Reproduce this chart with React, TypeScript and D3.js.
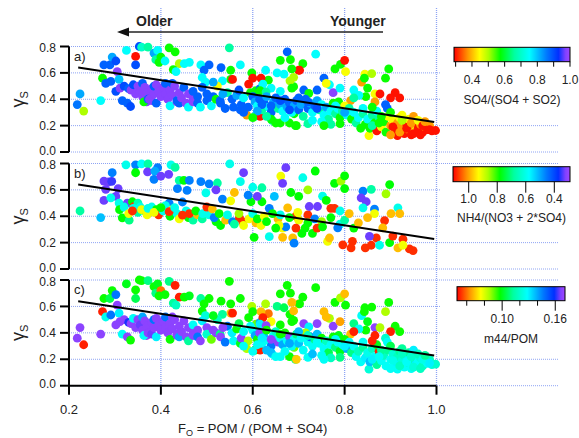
import React from 'react'
import * as d3 from 'd3'

const W = 579
const H = 438

// x axis / y axis ticks
const foTicks = [0.2, 0.4, 0.6, 0.8, 1.0]
const gammaTicks = [0, 0.2, 0.4, 0.6, 0.8]

// fitted line, same in every panel
const fitFo = [0.22, 0.995]
const fitGamma = [0.64, 0.228]

// [F_O, gamma_s, SO4/(SO4+SO2), m44/POM]  -> panels a) and c)
const pointsAC: number[][] = [
  [0.224, 0.44, 0.82, 0.168], [0.218, 0.36, 0.86, 0.168], [0.232, 0.31, 0.5, 0.052], [0.269, 0.39, 0.75, 0.168],
  [0.273, 0.56, 0.57, 0.052], [0.276, 0.66, 0.88, 0.097], [0.289, 0.66, 0.88, 0.105], [0.294, 0.72, 0.82, 0.097],
  [0.302, 0.69, 0.9, 0.147], [0.28, 0.52, 0.88, 0.125], [0.291, 0.535, 0.88, 0.147], [0.305, 0.61, 0.98, 0.168],
  [0.309, 0.55, 0.8, 0.13], [0.302, 0.46, 0.9, 0.168], [0.316, 0.39, 0.88, 0.127], [0.327, 0.37, 0.88, 0.168],
  [0.334, 0.345, 0.9, 0.097], [0.325, 0.77, 0.75, 0.1], [0.345, 0.725, 0.3, 0.097], [0.353, 0.8, 0.9, 0.097],
  [0.345, 0.66, 0.9, 0.105], [0.358, 0.795, 0.7, 0.097], [0.372, 0.795, 0.66, 0.11], [0.385, 0.75, 0.82, 0.097],
  [0.393, 0.77, 0.75, 0.1], [0.389, 0.7, 0.66, 0.11], [0.4, 0.72, 0.57, 0.06], [0.396, 0.68, 0.57, 0.097],
  [0.418, 0.79, 0.57, 0.11], [0.431, 0.76, 0.57, 0.052], [0.409, 0.69, 0.75, 0.097], [0.44, 0.67, 0.5, 0.052],
  [0.451, 0.67, 0.75, 0.097], [0.462, 0.68, 0.75, 0.1], [0.487, 0.66, 0.75, 0.112], [0.505, 0.66, 0.88, 0.097],
  [0.531, 0.64, 0.88, 0.097], [0.549, 0.79, 0.66, 0.097], [0.573, 0.66, 0.75, 0.097], [0.552, 0.62, 0.57, 0.097],
  [0.494, 0.62, 0.88, 0.097], [0.427, 0.625, 0.57, 0.112], [0.433, 0.61, 0.75, 0.118], [0.49, 0.565, 0.75, 0.097],
  [0.552, 0.55, 0.57, 0.068], [0.556, 0.55, 0.3, 0.052], [0.534, 0.54, 0.75, 0.112], [0.497, 0.53, 0.75, 0.122],
  [0.598, 0.6, 0.57, 0.085], [0.591, 0.515, 0.3, 0.097], [0.607, 0.465, 0.57, 0.09], [0.523, 0.5, 0.45, 0.118],
  [0.311, 0.485, 0.98, 0.168], [0.32, 0.5, 0.9, 0.168], [0.33, 0.48, 0.88, 0.16], [0.335, 0.47, 0.98, 0.168],
  [0.34, 0.51, 0.9, 0.127], [0.345, 0.44, 0.98, 0.168], [0.35, 0.5, 0.98, 0.168], [0.355, 0.46, 0.98, 0.165],
  [0.36, 0.42, 0.98, 0.168], [0.36, 0.52, 0.88, 0.14], [0.365, 0.49, 0.98, 0.168], [0.369, 0.38, 0.98, 0.168],
  [0.363, 0.38, 0.57, 0.127], [0.37, 0.45, 0.98, 0.168], [0.372, 0.4, 0.88, 0.168], [0.375, 0.4, 0.98, 0.168],
  [0.38, 0.48, 0.98, 0.168], [0.38, 0.39, 0.98, 0.165], [0.385, 0.44, 0.98, 0.168], [0.385, 0.5, 0.88, 0.147],
  [0.39, 0.51, 0.98, 0.168], [0.39, 0.37, 0.88, 0.13], [0.395, 0.46, 0.98, 0.168], [0.4, 0.42, 0.98, 0.168],
  [0.405, 0.49, 0.98, 0.168], [0.41, 0.44, 0.98, 0.168], [0.41, 0.52, 0.88, 0.147], [0.415, 0.4, 0.98, 0.168],
  [0.42, 0.47, 0.98, 0.168], [0.42, 0.35, 0.75, 0.097], [0.425, 0.43, 0.98, 0.168], [0.425, 0.52, 0.88, 0.168],
  [0.43, 0.5, 0.98, 0.168], [0.435, 0.38, 0.98, 0.168], [0.435, 0.39, 0.88, 0.168], [0.44, 0.45, 0.98, 0.168],
  [0.44, 0.37, 0.88, 0.14], [0.445, 0.41, 0.98, 0.168], [0.45, 0.49, 0.88, 0.168], [0.455, 0.37, 0.98, 0.168],
  [0.46, 0.44, 0.98, 0.168], [0.46, 0.34, 0.75, 0.112], [0.47, 0.4, 0.98, 0.168], [0.47, 0.38, 0.98, 0.168],
  [0.47, 0.46, 0.88, 0.127], [0.48, 0.42, 0.88, 0.168], [0.48, 0.37, 0.88, 0.147], [0.486, 0.34, 0.75, 0.168],
  [0.49, 0.49, 0.88, 0.13], [0.5, 0.44, 0.88, 0.168], [0.5, 0.39, 0.88, 0.12], [0.514, 0.42, 0.88, 0.168],
  [0.514, 0.53, 0.82, 0.1], [0.51, 0.35, 0.75, 0.09], [0.52, 0.4, 0.57, 0.168], [0.529, 0.39, 0.88, 0.11],
  [0.53, 0.37, 0.88, 0.168], [0.54, 0.33, 0.88, 0.147], [0.545, 0.45, 0.66, 0.147], [0.558, 0.34, 0.88, 0.127],
  [0.573, 0.32, 0.88, 0.1], [0.587, 0.28, 0.38, 0.085], [0.605, 0.27, 0.75, 0.1], [0.616, 0.27, 0.3, 0.052],
  [0.616, 0.48, 0.88, 0.14], [0.634, 0.545, 0.57, 0.06], [0.653, 0.6, 0.75, 0.11], [0.642, 0.24, 0.66, 0.127],
  [0.66, 0.22, 0.57, 0.127], [0.675, 0.76, 0.88, 0.097], [0.682, 0.7, 0.57, 0.097], [0.689, 0.495, 0.57, 0.097],
  [0.693, 0.2, 0.57, 0.11], [0.7, 0.62, 0.3, 0.068], [0.69, 0.29, 0.57, 0.09], [0.6, 0.56, 0.3, 0.097],
  [0.555, 0.4, 0.88, 0.13], [0.565, 0.43, 0.82, 0.097], [0.575, 0.36, 0.88, 0.168], [0.58, 0.41, 0.75, 0.127],
  [0.59, 0.34, 0.88, 0.085], [0.595, 0.45, 0.57, 0.127], [0.57, 0.47, 0.9, 0.105], [0.535, 0.44, 0.82, 0.168],
  [0.737, 0.742, 0.75, 0.097], [0.66, 0.695, 0.57, 0.097], [0.709, 0.67, 0.57, 0.097], [0.702, 0.62, 0.3, 0.097],
  [0.685, 0.63, 0.57, 0.068], [0.681, 0.54, 0.5, 0.097], [0.689, 0.566, 0.5, 0.068], [0.628, 0.62, 0.75, 0.085],
  [0.668, 0.59, 0.75, 0.105], [0.618, 0.56, 0.3, 0.068], [0.622, 0.515, 0.75, 0.052], [0.64, 0.485, 0.75, 0.076],
  [0.616, 0.465, 0.57, 0.13], [0.629, 0.455, 0.66, 0.168], [0.66, 0.46, 0.75, 0.097], [0.685, 0.485, 0.57, 0.097],
  [0.711, 0.47, 0.88, 0.168], [0.74, 0.47, 0.88, 0.168], [0.722, 0.445, 0.57, 0.13], [0.767, 0.51, 0.75, 0.085],
  [0.755, 0.56, 0.88, 0.068], [0.76, 0.52, 0.45, 0.068], [0.775, 0.45, 0.98, 0.168], [0.787, 0.38, 0.57, 0.1],
  [0.79, 0.485, 0.75, 0.065], [0.779, 0.63, 0.57, 0.097], [0.791, 0.665, 0.57, 0.085], [0.8, 0.695, 0.3, 0.068],
  [0.802, 0.61, 0.45, 0.097], [0.82, 0.47, 0.75, 0.11], [0.837, 0.53, 0.38, 0.127], [0.844, 0.59, 0.45, 0.097],
  [0.859, 0.595, 0.5, 0.097], [0.843, 0.56, 0.57, 0.097], [0.85, 0.485, 0.57, 0.1], [0.846, 0.42, 0.57, 0.097],
  [0.831, 0.43, 0.75, 0.127], [0.866, 0.44, 0.45, 0.168], [0.877, 0.44, 0.3, 0.085], [0.813, 0.39, 0.38, 0.068],
  [0.82, 0.41, 0.66, 0.052], [0.866, 0.38, 0.38, 0.052], [0.896, 0.63, 0.57, 0.097], [0.889, 0.56, 0.57, 0.085],
  [0.91, 0.45, 0.3, 0.097], [0.92, 0.41, 0.3, 0.097], [0.9, 0.41, 0.3, 0.052], [0.889, 0.36, 0.88, 0.12],
  [0.893, 0.33, 0.88, 0.127],
  [0.6, 0.42, 0.88, 0.127], [0.605, 0.38, 0.82, 0.14], [0.61, 0.35, 0.75, 0.097], [0.615, 0.4, 0.88, 0.168],
  [0.62, 0.32, 0.66, 0.127], [0.625, 0.37, 0.88, 0.137], [0.63, 0.42, 0.82, 0.097], [0.635, 0.34, 0.75, 0.127],
  [0.64, 0.3, 0.88, 0.147], [0.645, 0.38, 0.82, 0.127], [0.65, 0.41, 0.88, 0.118], [0.655, 0.33, 0.66, 0.168],
  [0.66, 0.36, 0.82, 0.127], [0.665, 0.31, 0.75, 0.14], [0.67, 0.4, 0.88, 0.097], [0.675, 0.34, 0.82, 0.127],
  [0.68, 0.37, 0.88, 0.168], [0.685, 0.3, 0.75, 0.127], [0.69, 0.35, 0.82, 0.127], [0.695, 0.39, 0.88, 0.11],
  [0.7, 0.32, 0.88, 0.137], [0.705, 0.36, 0.82, 0.127], [0.71, 0.27, 0.66, 0.127], [0.715, 0.4, 0.88, 0.085],
  [0.72, 0.33, 0.88, 0.127], [0.725, 0.37, 0.82, 0.147], [0.73, 0.3, 0.75, 0.127], [0.735, 0.35, 0.88, 0.11],
  [0.74, 0.39, 0.82, 0.137], [0.745, 0.32, 0.66, 0.127], [0.75, 0.36, 0.75, 0.097], [0.755, 0.28, 0.75, 0.127],
  [0.76, 0.34, 0.82, 0.118], [0.765, 0.25, 0.66, 0.105], [0.77, 0.31, 0.75, 0.127], [0.775, 0.37, 0.57, 0.097],
  [0.78, 0.29, 0.66, 0.11], [0.785, 0.33, 0.75, 0.127], [0.79, 0.26, 0.57, 0.1], [0.795, 0.31, 0.66, 0.127],
  [0.8, 0.35, 0.45, 0.097], [0.805, 0.28, 0.75, 0.14], [0.81, 0.33, 0.66, 0.127], [0.815, 0.25, 0.57, 0.11],
  [0.82, 0.3, 0.75, 0.127], [0.64, 0.25, 0.57, 0.137], [0.65, 0.22, 0.57, 0.127], [0.68, 0.22, 0.57, 0.097],
  [0.695, 0.2, 0.57, 0.07], [0.72, 0.215, 0.66, 0.127], [0.73, 0.24, 0.75, 0.137], [0.75, 0.23, 0.75, 0.127],
  [0.77, 0.21, 0.66, 0.118], [0.79, 0.215, 0.57, 0.11], [0.755, 0.2, 0.57, 0.127],
  [0.62, 0.36, 0.88, 0.13], [0.66, 0.39, 0.9, 0.097], [0.7, 0.41, 0.88, 0.137], [0.74, 0.33, 0.9, 0.127],
  [0.64, 0.35, 0.88, 0.168], [0.61, 0.31, 0.82, 0.127], [0.68, 0.32, 0.9, 0.14], [0.72, 0.38, 0.88, 0.118],
  [0.78, 0.35, 0.75, 0.127], [0.8, 0.3, 0.82, 0.13], [0.58, 0.3, 0.88, 0.127], [0.6, 0.26, 0.57, 0.127],
  [0.63, 0.27, 0.66, 0.137], [0.67, 0.26, 0.75, 0.127],
  [0.825, 0.22, 0.66, 0.127], [0.83, 0.26, 0.75, 0.118], [0.835, 0.18, 0.57, 0.127], [0.84, 0.29, 0.66, 0.112],
  [0.845, 0.21, 0.57, 0.13], [0.85, 0.25, 0.75, 0.125], [0.853, 0.125, 0.45, 0.122], [0.855, 0.18, 0.57, 0.137],
  [0.86, 0.28, 0.66, 0.118], [0.865, 0.22, 0.57, 0.127], [0.87, 0.16, 0.3, 0.112], [0.875, 0.26, 0.66, 0.052],
  [0.88, 0.19, 0.45, 0.127], [0.885, 0.23, 0.57, 0.118], [0.89, 0.15, 0.57, 0.127], [0.895, 0.27, 0.45, 0.112],
  [0.9, 0.2, 0.38, 0.127], [0.905, 0.24, 0.45, 0.122], [0.91, 0.17, 0.3, 0.13], [0.915, 0.125, 0.3, 0.127],
  [0.915, 0.22, 0.38, 0.118], [0.92, 0.26, 0.45, 0.112], [0.925, 0.19, 0.38, 0.122], [0.93, 0.14, 0.3, 0.127],
  [0.93, 0.23, 0.45, 0.118], [0.935, 0.21, 0.3, 0.13], [0.94, 0.17, 0.38, 0.122], [0.94, 0.25, 0.45, 0.112],
  [0.945, 0.13, 0.3, 0.127], [0.95, 0.2, 0.38, 0.118], [0.955, 0.23, 0.3, 0.122], [0.955, 0.16, 0.45, 0.13],
  [0.96, 0.18, 0.3, 0.127], [0.965, 0.21, 0.38, 0.122], [0.97, 0.15, 0.3, 0.118], [0.975, 0.19, 0.38, 0.122],
  [0.98, 0.17, 0.3, 0.127], [0.985, 0.2, 0.38, 0.118], [0.99, 0.16, 0.3, 0.122], [0.998, 0.163, 0.3, 0.12],
  [0.9, 0.3, 0.57, 0.105], [0.87, 0.31, 0.75, 0.1], [0.925, 0.28, 0.45, 0.112], [0.95, 0.27, 0.38, 0.13],
  [0.86, 0.34, 0.57, 0.052], [0.84, 0.33, 0.75, 0.127],
  [0.905, 0.19, 0.3, 0.125], [0.92, 0.15, 0.38, 0.118], [0.935, 0.18, 0.3, 0.127], [0.945, 0.22, 0.38, 0.12],
  [0.96, 0.24, 0.45, 0.118], [0.97, 0.2, 0.3, 0.125], [0.975, 0.23, 0.38, 0.112], [0.985, 0.17, 0.3, 0.13],
  [0.95, 0.14, 0.3, 0.122], [0.965, 0.13, 0.3, 0.118], [0.925, 0.24, 0.5, 0.118], [0.9, 0.13, 0.38, 0.127],
  [0.88, 0.27, 0.57, 0.112], [0.86, 0.2, 0.66, 0.13], [0.875, 0.22, 0.57, 0.127],
]

// [F_O, gamma_s, NH4/(NO3+2*SO4)]  -> panel b)
const pointsB: number[][] = [
  [0.224, 0.44, 0.68], [0.269, 0.39, 0.52], [0.294, 0.73, 0.46], [0.276, 0.667, 0.33], [0.286, 0.66, 0.33],
  [0.293, 0.665, 0.35], [0.28, 0.604, 0.33], [0.307, 0.61, 0.33], [0.302, 0.55, 0.33], [0.276, 0.52, 0.33],
  [0.291, 0.54, 0.6], [0.309, 0.5, 0.6], [0.316, 0.388, 0.78], [0.331, 0.37, 0.7], [0.327, 0.5, 0.33],
  [0.338, 0.51, 0.78], [0.342, 0.475, 1.08], [0.324, 0.79, 0.6], [0.345, 0.79, 0.46], [0.358, 0.797, 0.58],
  [0.372, 0.797, 0.68], [0.345, 0.73, 0.78], [0.371, 0.737, 0.33], [0.393, 0.768, 0.46], [0.387, 0.742, 0.5],
  [0.385, 0.68, 0.46], [0.4, 0.705, 0.33], [0.417, 0.718, 0.33], [0.422, 0.79, 0.6], [0.431, 0.77, 0.68],
  [0.44, 0.672, 0.68], [0.45, 0.672, 0.78], [0.462, 0.672, 0.46], [0.487, 0.662, 0.46], [0.505, 0.646, 0.46],
  [0.523, 0.652, 0.68], [0.55, 0.797, 0.6], [0.573, 0.662, 0.6], [0.498, 0.578, 0.6], [0.457, 0.596, 0.46],
  [0.436, 0.61, 0.46], [0.447, 0.508, 0.46], [0.418, 0.5, 0.46], [0.35, 0.5, 0.66],
  [0.31, 0.45, 0.78], [0.32, 0.47, 0.6], [0.33, 0.42, 0.92], [0.34, 0.46, 0.6], [0.35, 0.43, 0.68],
  [0.355, 0.47, 0.6], [0.365, 0.44, 0.78], [0.37, 0.41, 0.92], [0.38, 0.47, 0.6], [0.39, 0.45, 0.78],
  [0.395, 0.41, 1.08], [0.405, 0.44, 0.6], [0.41, 0.48, 0.6], [0.42, 0.4, 0.78], [0.425, 0.45, 0.92],
  [0.435, 0.42, 0.6], [0.44, 0.38, 0.92], [0.455, 0.44, 0.6], [0.46, 0.39, 0.78], [0.47, 0.37, 0.68],
  [0.48, 0.41, 0.98], [0.49, 0.38, 0.68], [0.505, 0.41, 0.6], [0.52, 0.36, 0.78], [0.53, 0.33, 0.78],
  [0.338, 0.44, 1.08], [0.358, 0.45, 0.92], [0.372, 0.46, 0.6], [0.385, 0.43, 0.92], [0.4, 0.465, 0.78],
  [0.418, 0.435, 1.08], [0.43, 0.465, 0.6], [0.447, 0.408, 1.08], [0.462, 0.42, 1.08], [0.476, 0.44, 0.78],
  [0.491, 0.42, 0.6], [0.5, 0.47, 1.08], [0.512, 0.455, 0.98], [0.516, 0.39, 0.46], [0.527, 0.42, 0.78],
  [0.534, 0.53, 0.46], [0.552, 0.517, 0.92], [0.541, 0.37, 0.98], [0.556, 0.36, 0.46], [0.571, 0.388, 1.08],
  [0.578, 0.36, 1.08], [0.592, 0.38, 0.92], [0.596, 0.51, 0.78], [0.607, 0.35, 0.98], [0.618, 0.33, 0.92],
  [0.545, 0.41, 0.6], [0.56, 0.34, 0.68], [0.57, 0.42, 0.86], [0.58, 0.33, 0.92], [0.6, 0.42, 0.6],
  [0.61, 0.38, 0.78], [0.625, 0.4, 0.92], [0.63, 0.36, 0.78], [0.655, 0.38, 0.98], [0.66, 0.41, 0.6],
  [0.62, 0.616, 0.68], [0.62, 0.51, 0.78], [0.636, 0.46, 0.46], [0.643, 0.42, 0.78], [0.647, 0.55, 0.52],
  [0.661, 0.705, 0.92], [0.672, 0.768, 0.33], [0.665, 0.65, 0.33], [0.683, 0.58, 0.78], [0.676, 0.464, 0.98],
  [0.694, 0.4, 1.08], [0.698, 0.43, 0.92], [0.709, 0.692, 0.6], [0.72, 0.41, 1.08], [0.723, 0.474, 0.33],
  [0.736, 0.743, 0.78], [0.741, 0.474, 0.33], [0.752, 0.552, 0.6], [0.76, 0.52, 0.78], [0.77, 0.46, 1.08],
  [0.778, 0.46, 1.08], [0.778, 0.65, 0.78], [0.792, 0.667, 0.86], [0.8, 0.706, 0.78], [0.8, 0.61, 0.78],
  [0.52, 0.6, 0.33], [0.56, 0.58, 0.98], [0.59, 0.56, 0.46], [0.6, 0.62, 0.6], [0.7, 0.55, 0.78],
  [0.72, 0.6, 0.86], [0.58, 0.73, 0.33], [0.61, 0.55, 0.33],
  [0.68, 0.39, 0.78], [0.7, 0.37, 0.92], [0.72, 0.35, 0.78], [0.735, 0.38, 0.46], [0.75, 0.36, 0.86],
  [0.77, 0.39, 0.78], [0.79, 0.34, 0.6], [0.8, 0.37, 0.68], [0.82, 0.31, 0.78], [0.83, 0.35, 0.98],
  [0.81, 0.42, 0.98], [0.79, 0.44, 0.6],
  [0.785, 0.312, 0.46], [0.763, 0.21, 0.92], [0.767, 0.235, 0.98], [0.796, 0.183, 1.08], [0.817, 0.21, 1.08],
  [0.814, 0.16, 1.08], [0.84, 0.59, 0.46], [0.858, 0.604, 0.68], [0.836, 0.54, 0.33], [0.847, 0.51, 0.33],
  [0.84, 0.464, 0.6], [0.865, 0.454, 0.46], [0.865, 0.42, 0.92], [0.85, 0.39, 0.98], [0.887, 0.367, 1.08],
  [0.898, 0.64, 0.78], [0.89, 0.57, 0.86], [0.916, 0.464, 0.6], [0.92, 0.42, 0.98], [0.901, 0.42, 0.98],
  [0.883, 0.312, 0.98], [0.869, 0.236, 1.08], [0.854, 0.248, 0.33], [0.858, 0.18, 1.08], [0.845, 0.16, 1.08],
  [0.876, 0.18, 0.6], [0.898, 0.2, 0.78], [0.905, 0.25, 1.08], [0.927, 0.226, 1.08], [0.916, 0.16, 0.98],
  [0.941, 0.152, 1.08], [0.949, 0.14, 1.08], [0.927, 0.18, 0.92],
  [0.687, 0.236, 0.98], [0.69, 0.196, 0.46], [0.636, 0.245, 0.6], [0.665, 0.24, 0.98], [0.603, 0.24, 0.78],
  [0.665, 0.31, 0.92], [0.707, 0.27, 0.78], [0.73, 0.27, 0.78], [0.74, 0.31, 1.08], [0.752, 0.32, 0.78],
  [0.714, 0.31, 0.78], [0.694, 0.31, 1.08], [0.672, 0.32, 0.46], [0.657, 0.33, 0.92], [0.65, 0.31, 0.78],
]

// Igor-style rainbow
const rainbowStops = [0, 0.12, 0.22, 0.3, 0.4, 0.52, 0.65, 0.8, 0.9, 0.96, 1]
const rainbowColors = ['#ff0000', '#ff9600', '#ffff00', '#aaff00', '#00ff00', '#00ffa0', '#00ffff', '#0078ff', '#0030ff', '#8040ff', '#a048ff']

const rainbow = d3.scaleLinear<string>().domain(rainbowStops).range(rainbowColors).clamp(true)

const x = d3.scaleLinear().domain([0.2, 1.0]).range([69, 436.5])

const font = 'Liberation Sans, Arial, Helvetica, sans-serif'
const gridColor = '#8ea4f4'

const panels = [
  {
    label: 'a)', bottom: 152, top: 46.5, data: pointsAC, col: 2,
    cbar: {
      title: 'SO4/(SO4 + SO2)', domain: [0.29, 1.0], x0: 454, x1: 570, y: 47.3, h: 14.4,
      ticks: [0.3, 0.4, 0.5, 0.6, 0.7, 0.8, 0.9, 1.0], labels: [0.4, 0.6, 0.8, 1.0],
      tickLen: 5, minorLen: 5, fmt: '.1f', labelY: 84, titleY: 104, box: [38, 112],
    },
  },
  {
    label: 'b)', bottom: 269, top: 163.5, data: pointsB, col: 2,
    cbar: {
      title: 'NH4/(NO3 + 2*SO4)', domain: [1.11, 0.29], x0: 453, x1: 570, y: 166.7, h: 15,
      ticks: [1.0, 0.8, 0.6, 0.4], labels: [1.0, 0.8, 0.6, 0.4],
      tickLen: 11, minorLen: 11, fmt: '.1f', labelY: 203, titleY: 222, box: [165, 230],
    },
  },
  {
    label: 'c)', bottom: 385.7, top: 280, data: pointsAC, col: 3,
    cbar: {
      title: 'm44/POM', domain: [0.049, 0.171], x0: 457, x1: 565, y: 286.7, h: 14,
      ticks: [0.06, 0.08, 0.1, 0.12, 0.14, 0.16], labels: [0.1, 0.16],
      tickLen: 10, minorLen: 5, fmt: '.2f', labelY: 323, titleY: 343, box: [283, 348],
    },
  },
]

const Panel = ({ p, idx }: { p: any, idx: number }) => {
  const y = d3.scaleLinear().domain([0, 0.8]).range([p.bottom, p.top])
  const c = p.cbar
  const cx = d3.scaleLinear().domain(c.domain).range([c.x0, c.x1])
  const tOf = d3.scaleLinear().domain(c.domain).range([0, 1])
  const line = d3.line<number>().x((d) => x(d)).y((d, i) => y(fitGamma[i]))
  const gradId = 'grad' + idx
  return (
    <g>
      {/* horizontal grid */}
      {gammaTicks.map((t) => (
        <line key={'h' + t} x1={69} x2={558} y1={y(t)} y2={y(t)} stroke={gridColor} strokeWidth={1} strokeDasharray="1,1" />
      ))}
      {/* colorbar box hides grid */}
      <rect x={440} y={c.box[0]} width={139} height={c.box[1] - c.box[0]} fill="white" />
      <defs>
        <linearGradient id={gradId} x1="0" x2="1" y1="0" y2="0">
          {rainbowStops.map((s, i) => (
            <stop key={i} offset={s} stopColor={rainbowColors[i]} />
          ))}
        </linearGradient>
      </defs>
      <rect x={c.x0} y={c.y} width={c.x1 - c.x0} height={c.h} fill={`url(#${gradId})`} stroke="black" strokeWidth={1} />
      {c.ticks.map((t: number) => (
        <line key={'ct' + t} x1={cx(t)} x2={cx(t)} y1={c.y + c.h} y2={c.y + c.h + (c.labels.includes(t) ? c.tickLen : c.minorLen)} stroke="black" strokeWidth={1} />
      ))}
      {c.labels.map((t: number) => (
        <text key={'cl' + t} x={cx(t)} y={c.labelY} textAnchor="middle" fontSize={12} fontFamily={font} fill="#222">{d3.format(c.fmt)(t)}</text>
      ))}
      <text x={(c.x0 + c.x1) / 2} y={c.titleY} textAnchor="middle" fontSize={12} fontFamily={font} fill="#222">{c.title}</text>

      {/* points */}
      {p.data.map((d: number[], i: number) => (
        <circle key={i} cx={x(d[0])} cy={y(d[1])} r={4.4} fill={rainbow(tOf(d[p.col]))} />
      ))}
      {/* fit */}
      <path d={line(fitFo) || ''} fill="none" stroke="black" strokeWidth={2} />

      {/* left axis */}
      <line x1={69} x2={69} y1={y(0)} y2={y(0.8)} stroke="black" strokeWidth={2} />
      {gammaTicks.map((t) => (
        <g key={'yt' + t}>
          <line x1={60} x2={69} y1={y(t)} y2={y(t)} stroke="black" strokeWidth={2} />
          <text x={56} y={y(t) + (t === 0 ? -1.5 : t === 0.8 ? 1.5 : 0)} dy="0.35em" textAnchor="end" fontSize={12} fontFamily={font} fill="#222">{d3.format('.1f')(t)}</text>
        </g>
      ))}
      <text transform={`translate(24,${(p.top + p.bottom) / 2}) rotate(-90)`} textAnchor="middle" fontSize={18} fontFamily={font} fill="#222">
        γ<tspan fontSize={11} dy={4}>S</tspan>
      </text>
      <text x={74} y={p.top + 14} fontSize={13} fontFamily={font} fill="#222">{p.label}</text>
    </g>
  )
}

export default function App() {
  const yBottom = panels[2].bottom
  return (
    <svg width={W} height={H} style={{ position: 'absolute', left: 0, top: 0, background: 'white' }}>
      {/* vertical grid */}
      {foTicks.slice(1).map((t) => (
        <line key={'v' + t} x1={x(t)} x2={x(t)} y1={8} y2={yBottom} stroke={gridColor} strokeWidth={1.3} strokeDasharray="1,1" />
      ))}
      {panels.map((p, i) => <Panel key={i} p={p} idx={i} />)}

      {/* bottom axis */}
      <line x1={x(0.2)} x2={x(1.0)} y1={yBottom} y2={yBottom} stroke="black" strokeWidth={2} />
      {foTicks.map((t) => (
        <g key={'xt' + t}>
          <line x1={x(t)} x2={x(t)} y1={yBottom} y2={yBottom + 9} stroke="black" strokeWidth={2} />
          <text x={x(t)} y={413.5} textAnchor="middle" fontSize={13} fontFamily={font} fill="#222">{d3.format('.1f')(t)}</text>
        </g>
      ))}
      <text x={(x(0.2) + x(1.0)) / 2} y={433} textAnchor="middle" fontSize={13} fontFamily={font} fill="#222">
        F<tspan fontSize={9} dy={3}>O</tspan><tspan dy={-3}> = POM / (POM + SO4)</tspan>
      </text>

      {/* age arrow */}
      <line x1={124} x2={383} y1={32} y2={32} stroke="#222" strokeWidth={1.5} />
      <polygon points="117,32 129,27.5 129,36.5" fill="#111" />
      <text x={136} y={26} fontSize={14} fontWeight="bold" fontFamily={font} fill="#222">Older</text>
      <text x={330} y={26} fontSize={14} fontWeight="bold" fontFamily={font} fill="#222">Younger</text>
    </svg>
  )
}
